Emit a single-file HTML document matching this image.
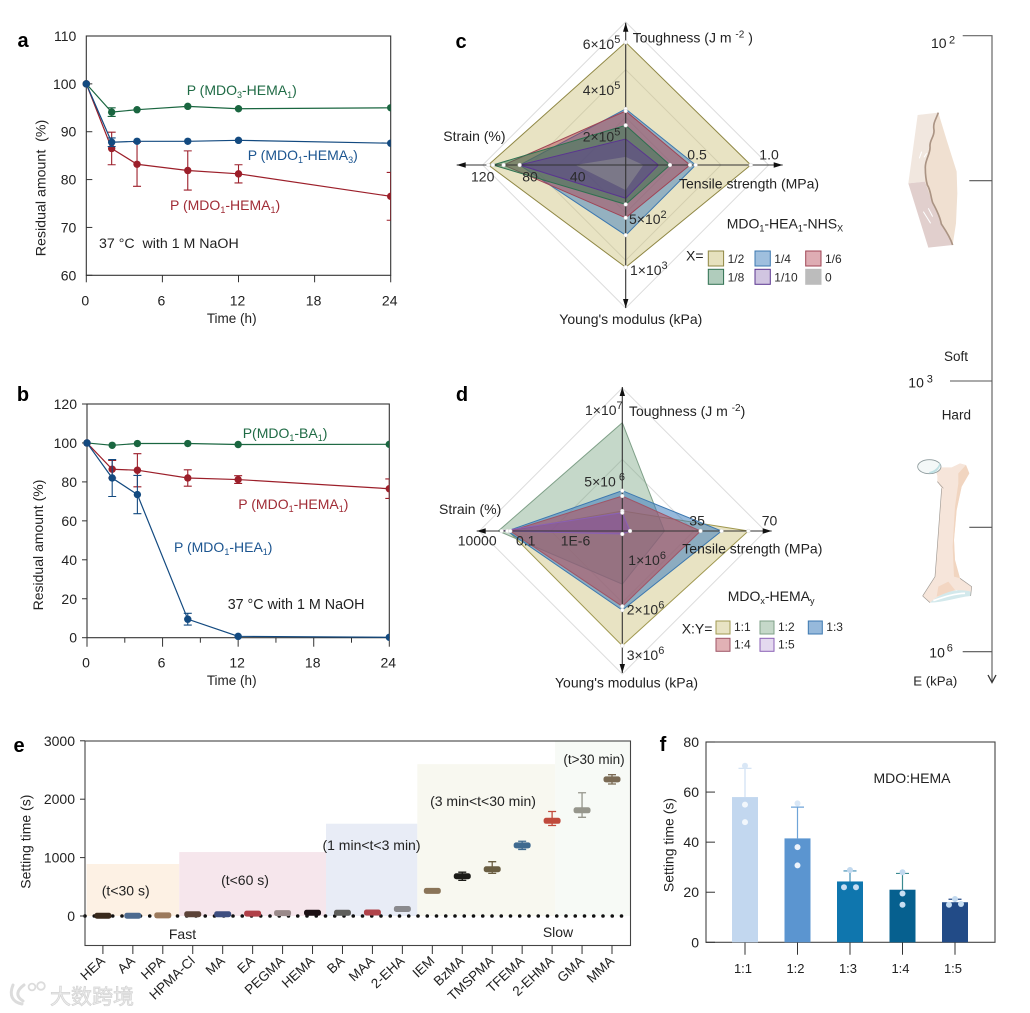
<!DOCTYPE html>
<html lang="en">
<head>
<meta charset="utf-8">
<title>Polymer degradation and adhesive figure</title>
<style>
html,body{margin:0;padding:0;background:#fff;}
svg{display:block;}
text{font-family:"Liberation Sans","Noto Sans CJK SC",sans-serif;fill:#222;font-size:14px;}
.letter{font-size:20px;font-weight:bold;fill:#000;text-anchor:middle;}
.rad{font-size:14px;fill:#2a2a2a;}
.lg{font-size:12px;fill:#2a2a2a;}
.sub{font-size:9px;}
.g{fill:#1f6b45;}
.b{fill:#1c5590;}
.r{fill:#a02c36;}
</style>
</head>
<body>
<svg id="fig" xmlns="http://www.w3.org/2000/svg" width="1030" height="1013" viewBox="0 0 1030 1013">
  <defs>
    <clipPath id="clipA"><rect x="60" y="20" width="330.7" height="270"/></clipPath>
    <clipPath id="clipB"><rect x="60" y="390" width="329.3" height="262"/></clipPath>
  </defs>

  <text class="letter" x="23" y="47">a</text>
  <text class="letter" x="23" y="401">b</text>
  <text class="letter" x="461" y="48">c</text>
  <text class="letter" x="462" y="401">d</text>
  <text class="letter" x="19" y="752">e</text>
  <text class="letter" x="663" y="751">f</text>

  <g id="panelA"></g>
  <g id="panelB"></g>
  <g id="panelC"></g>
  <g id="panelD"></g>
  <g id="panelE"></g>
  <g id="panelF"></g>

  <!-- panel a annotations -->
  <text x="40.5" y="188" transform="rotate(-90 40.5 188)" dy="5" text-anchor="middle" xml:space="preserve" style="font-size:14.2px">Residual amount  (%)</text>
  <text x="231.7" y="323" text-anchor="middle" style="font-size:13.5px">Time (h)</text>
  <text class="g" x="186.7" y="95">P (MDO<tspan class="sub g" dy="3">3</tspan><tspan class="g" dy="-3">-HEMA</tspan><tspan class="sub g" dy="3">1</tspan><tspan class="g" dy="-3">)</tspan></text>
  <text class="b" x="247.7" y="160">P (MDO<tspan class="sub b" dy="3">1</tspan><tspan class="b" dy="-3">-HEMA</tspan><tspan class="sub b" dy="3">3</tspan><tspan class="b" dy="-3">)</tspan></text>
  <text class="r" x="170" y="210">P (MDO<tspan class="sub r" dy="3">1</tspan><tspan class="r" dy="-3">-HEMA</tspan><tspan class="sub r" dy="3">1</tspan><tspan class="r" dy="-3">)</tspan></text>
  <text x="99" y="248" xml:space="preserve" style="font-size:14.2px">37 °C  with 1 M NaOH</text>

  <!-- panel b annotations -->
  <text x="38" y="545" transform="rotate(-90 38 545)" dy="5" text-anchor="middle">Residual amount (%)</text>
  <text x="231.7" y="685" text-anchor="middle" style="font-size:13.5px">Time (h)</text>
  <text class="g" x="242.7" y="438">P(MDO<tspan class="sub g" dy="3">1</tspan><tspan class="g" dy="-3">-BA</tspan><tspan class="sub g" dy="3">1</tspan><tspan class="g" dy="-3">)</tspan></text>
  <text class="r" x="238.3" y="509">P (MDO<tspan class="sub r" dy="3">1</tspan><tspan class="r" dy="-3">-HEMA</tspan><tspan class="sub r" dy="3">1</tspan><tspan class="r" dy="-3">)</tspan></text>
  <text class="b" x="174" y="552">P (MDO<tspan class="sub b" dy="3">1</tspan><tspan class="b" dy="-3">-HEA</tspan><tspan class="sub b" dy="3">1</tspan><tspan class="b" dy="-3">)</tspan></text>
  <text x="227.7" y="609" style="font-size:14.3px">37 °C with 1 M NaOH</text>

  <!-- panel c labels -->
  <g>
    <text class="rad" x="582.7" y="49">6×10<tspan dy="-6" style="font-size:11px">5</tspan></text>
    <text class="rad" x="582.7" y="95">4×10<tspan dy="-6" style="font-size:11px">5</tspan></text>
    <text class="rad" x="582.7" y="141.7">2×10<tspan dy="-6" style="font-size:11px">5</tspan></text>
    <text class="rad" x="687.3" y="159.3">0.5</text>
    <text class="rad" x="759.3" y="159.3">1.0</text>
    <text class="rad" x="482.7" y="181.7" text-anchor="middle">120</text>
    <text class="rad" x="530" y="181.7" text-anchor="middle">80</text>
    <text class="rad" x="577.7" y="181.7" text-anchor="middle">40</text>
    <text class="rad" x="629" y="224">5×10<tspan dy="-6" style="font-size:11px">2</tspan></text>
    <text class="rad" x="630" y="275">1×10<tspan dy="-6" style="font-size:11px">3</tspan></text>
    <text x="632.7" y="42.7">Toughness (J m <tspan dy="-5" style="font-size:10px">-2</tspan><tspan dy="5"> )</tspan></text>
    <text x="443.3" y="141">Strain (%)</text>
    <text x="679" y="188.3">Tensile strength (MPa)</text>
    <text x="559.3" y="324">Young's modulus (kPa)</text>
    <text x="726.7" y="228.3">MDO<tspan dy="3" class="sub">1</tspan><tspan dy="-3">-HEA</tspan><tspan dy="3" class="sub">1</tspan><tspan dy="-3">-NHS</tspan><tspan dy="3" class="sub">X</tspan></text>
    <text x="686" y="260.7">X=</text>
  </g>

  <!-- panel d labels -->
  <g>
    <text class="rad" x="585" y="415">1×10<tspan dy="-6" style="font-size:11px">7</tspan></text>
    <text class="rad" x="584.3" y="486.7">5×10<tspan dy="-6" style="font-size:11px"> 6</tspan></text>
    <text x="629" y="416">Toughness (J m <tspan dy="-5" style="font-size:10px">-2</tspan><tspan dy="5">)</tspan></text>
    <text x="439" y="514">Strain (%)</text>
    <text class="rad" x="457.7" y="545.7">10000</text>
    <text class="rad" x="516" y="545.7">0.1</text>
    <text class="rad" x="560.7" y="545.7">1E-6</text>
    <text class="rad" x="689.3" y="525.3">35</text>
    <text class="rad" x="761.7" y="525.3">70</text>
    <text x="682.3" y="553.3">Tensile strength (MPa)</text>
    <text class="rad" x="628.3" y="565">1×10<tspan dy="-6" style="font-size:11px">6</tspan></text>
    <text class="rad" x="626.7" y="614.3">2×10<tspan dy="-6" style="font-size:11px">6</tspan></text>
    <text class="rad" x="626.7" y="660">3×10<tspan dy="-6" style="font-size:11px">6</tspan></text>
    <text x="555" y="687.3">Young's modulus (kPa)</text>
    <text x="727.7" y="601">MDO<tspan dy="3" class="sub">x</tspan><tspan dy="-3">-HEMA</tspan><tspan dy="3" class="sub">y</tspan></text>
    <text x="681.7" y="633.3">X:Y=</text>
  </g>

  <!-- stiffness scale -->
  <g>
    <path d="M962.7 35.7H992V681" fill="none" stroke="#666" stroke-width="1.2"/>
    <path d="M969.3 180.7H992M950 381H992M969.3 527.3H992M962.7 651.7H992" fill="none" stroke="#555" stroke-width="1.1"/>
    <path d="M988 675L992 682.5L996 675" fill="none" stroke="#333" stroke-width="1.3"/>
    <text x="931" y="48">10</text>
    <text x="949" y="43.3" style="font-size:11px">2</text>
    <text x="908.3" y="387.7">10</text>
    <text x="926.7" y="382.7" style="font-size:11px">3</text>
    <text x="929.3" y="657.3">10</text>
    <text x="946.7" y="651.7" style="font-size:11px">6</text>
    <text x="944" y="361" style="font-size:13.5px">Soft</text>
    <text x="941.7" y="419.3" style="font-size:13.5px">Hard</text>
    <text x="913.3" y="685.7" style="font-size:13.2px">E (kPa)</text>
  </g>

  <!-- skin illustration -->
  <g transform="translate(880 20) scale(0.3333)">
    <path d="M113 285L175 278L160 330L150 375L135 430L135 485L85 490Z" fill="#f1e7df"/>
    <path d="M85 490L135 485L155 540L185 610L218 675L145 683Z" fill="#e1cfcd"/>
    <path d="M175 278L200 360L230 455L232 520L228 610L218 675L185 610L155 540L135 485L135 430L150 375L160 330Z" fill="#f0e0d1"/>
    <path d="M125 395L118 415M140 400L132 412M130 575L152 610M145 565L158 590" fill="none" stroke="#fff" stroke-width="3"/>
    <path d="M175 278C168 298 158 310 162 330C164 350 148 360 150 380C152 402 134 420 136 445C136 465 138 480 142 495C152 510 152 530 158 548C170 570 180 590 184 612C196 630 210 650 218 675" fill="none" stroke="#ab9484" stroke-width="5"/>
  </g>

  <!-- bone illustration -->
  <g transform="translate(880 360) scale(0.3333)">
    <path d="M165 322L180 322L215 322L240 310L258 315L268 340L245 380L230 450L222 540L225 600L240 655L275 680L272 708L230 690L150 728L128 708L165 650L172 560L185 385L172 365L172 348Z" fill="#f6e5da"/>
    <path d="M268 340L245 380L230 450L222 540L225 600L240 655L222 650L218 560L225 440L235 370L235 340L258 315Z" fill="#f1d5c0"/>
    <path d="M175 680L205 665L225 690L170 710Z" fill="#f3d6c2"/>
    <ellipse cx="148" cy="320" rx="35" ry="21" fill="#f4f8f8" stroke="#8d9a9c" stroke-width="2.5"/>
    <path d="M148 338C165 335 178 322 180 310C176 328 165 338 148 338Z" fill="#bfe0e3" stroke="#bfe0e3" stroke-width="4"/>
    <path d="M150 728C180 700 230 682 272 695L272 708C230 712 190 728 150 728Z" fill="#d3e9ec"/>
    <path d="M160 722C190 712 225 700 255 700" fill="none" stroke="#fff" stroke-width="5"/>
    <path d="M128 708L150 728M128 708L165 650L172 560L185 385M172 365L190 385M240 655L275 680L272 708" fill="none" stroke="#a09a94" stroke-width="2"/>
  </g>

  <!-- watermark -->
  <g>
    <path d="M13 985C9 995 12 1002 22 1004M24 985C17 990 15 996 23 1001" fill="none" stroke="#dcdcdc" stroke-width="3" stroke-linecap="round"/>
    <circle cx="32" cy="987" r="3.4" fill="none" stroke="#dcdcdc" stroke-width="1.8"/>
    <circle cx="41" cy="986" r="3.8" fill="none" stroke="#dcdcdc" stroke-width="1.8"/>
    <text x="50" y="1004" style="font-size:21px;fill:#ececec;stroke:#d4d4d4;stroke-width:0.7px;font-family:'Liberation Sans','Noto Sans CJK SC',sans-serif">大数跨境</text>
  </g>
</svg>

<script>
// ---------- panel a data ----------
const timeHours = [0, 2, 4, 8, 12, 24];
const aTicksX = [0, 6, 12, 18, 24];
const aTicksY = [60, 70, 80, 90, 100, 110];
const aGreen = [100, 94.1, 94.6, 95.3, 94.8, 95];
const aGreenErr = [0, 0.9, 0.5, 0.3, 0.3, 0.2];
const aBlue = [100, 87.8, 88, 88, 88.2, 87.6];
const aBlueErr = [0, 0.9, 0.5, 0.3, 0.3, 0.2];
const aRed = [100, 86.5, 83.2, 81.9, 81.2, 76.5];
const aRedErr = [0, 3.4, 4.6, 4.1, 1.9, 5];

// ---------- panel b data ----------
const bTicksX = [0, 6, 12, 18, 24];
const bMinorX = [3, 9, 15, 21];
const bTicksY = [0, 20, 40, 60, 80, 100, 120];
const bGreen = [100, 98.8, 99.7, 99.7, 99.2, 99.3];
const bGreenErr = [0, 0.3, 0.3, 0.3, 0.3, 0.2];
const bRed = [100, 86.5, 86, 82, 81.2, 76.5];
const bRedErr = [0, 4.5, 8.5, 4.2, 2, 5];
const bBlue = [100, 82, 73.5, 9.5, 0.7, 0.2];
const bBlueErr = [0, 9.5, 9.8, 3, 0.2, 0.1];

// ---------- panel c data: [toughness, tensile, modulus, strain] ----------
const cLabels = ['1/2', '1/4', '1/6', '1/8', '1/10', '0'];
const cX12 = [600000, 0.887, 1000, 120];
const cX14 = [274000, 0.496, 686, 92.6];
const cX16 = [264000, 0.456, 516, 106.6];
const cX18 = [194000, 0.314, 385, 116];
const cX110 = [127000, 0.232, 325, 92.6];
const cX0 = [40000, 0.125, 245, 44];

// ---------- panel d data: [toughness, tensile, modulus, strain] ----------
const dLabels = ['1:1', '1:2', '1:3', '1:4', '1:5'];
const d11 = [1850000, 61.7, 3000000, 5.1];
const d12 = [10000000, 20.6, 1390000, 55];
const d13 = [3720000, 48.6, 2070000, 6.5];
const d14 = [3230000, 38.3, 1970000, 3.2];
const d15 = [1690000, 3.8, 80000, 25];

// ---------- panel e data ----------
const eCategories = ['HEA','AA','HPA','HPMA-Cl','MA','EA','PEGMA','HEMA','BA','MAA','2-EHA','IEM','BzMA','TMSPMA','TFEMA','2-EHMA','GMA','MMA'];
const eMeans = [5, 5, 10, 30, 30, 40, 50, 55, 55, 60, 120, 430, 680, 800, 1210, 1630, 1810, 2340];
const eErrUp = [8, 8, 10, 15, 15, 15, 15, 15, 15, 15, 30, 15, 70, 130, 70, 160, 300, 80];
const eErrDown = [8, 8, 10, 15, 15, 15, 15, 15, 15, 15, 30, 15, 70, 70, 70, 80, 120, 80];
const eBandEnds = [2.55, 7.45, 10.5, 15.1, 17.6];
const eBandTops = [890, 1095, 1580, 2600, 3000];
const eTicksY = [0, 1000, 2000, 3000];

// ---------- panel f data ----------
const fCategories = ['1:1', '1:2', '1:3', '1:4', '1:5'];
const fMeans = [58, 41.5, 24.3, 21, 16];
const fErrHigh = [69.5, 54, 28.5, 27.5, 17.2];
const fPointsA = [70.5, 55.5, 28.9, 28, 17.3];
const fPointsB = [55, 38, 22, 19.5, 15];
const fPointsC = [48, 30.7, 22, 15, 15.3];
const fTicksY = [0, 20, 40, 60, 80];

const NS = 'http://www.w3.org/2000/svg';
function mk(parent, tag, attrs, name) {
  const el = document.createElementNS(NS, tag);
  for (const k in attrs) { el.setAttribute(k, attrs[k]); }
  
  
  parent.appendChild(el);
  return el;
}
function label(parent, x, y, str, anchor, name, extra) {
  const el = mk(parent, 'text', Object.assign({x: x, y: y, 'text-anchor': anchor}, extra || {}), name);
  el.textContent = str;
  return el;
}
function linear(d0, d1, r0, r1) {
  return function (v) { return r0 + (v - d0) * (r1 - r0) / (d1 - d0); };
}

// ---------- line chart ----------
function lineChart(root, opt) {
  const x = linear(0, 24, opt.left, opt.right);
  const y = linear(opt.yMin, opt.yMax, opt.bottom, opt.top);
  mk(root, 'rect', {x: opt.left, y: opt.top, width: opt.right - opt.left, height: opt.bottom - opt.top, fill: 'none', stroke: '#333', 'stroke-width': 1.1}, opt.id + '-plot-frame');
  opt.ticksY.forEach(function (t) {
    mk(root, 'line', {x1: opt.left, x2: opt.left + opt.yTickLen, y1: y(t), y2: y(t), stroke: '#333', 'stroke-width': 1}, opt.id + '-y-tick');
    label(root, opt.left - 10, y(t) + 5, String(t), 'end', opt.id + '-y-tick-label');
  });
  opt.ticksX.forEach(function (t) {
    mk(root, 'line', {x1: x(t), x2: x(t), y1: opt.bottom, y2: opt.bottom + opt.xTickLen, stroke: '#333', 'stroke-width': 1}, opt.id + '-x-tick');
    label(root, x(t) - 1, opt.bottom + 30, String(t), 'middle', opt.id + '-x-tick-label');
  });
  (opt.minorX || []).forEach(function (t) {
    mk(root, 'line', {x1: x(t), x2: x(t), y1: opt.bottom, y2: opt.bottom + 5, stroke: '#333', 'stroke-width': 1}, opt.id + '-x-minor-tick');
  });
  const plot = mk(root, 'g', {'clip-path': 'url(#' + opt.clip + ')'}, opt.id + '-series-area');
  opt.series.forEach(function (s) {
    const pts = s.values.map(function (v, i) { return x(timeHours[i]) + ',' + y(v); }).join(' ');
    mk(plot, 'polyline', {points: pts, fill: 'none', stroke: s.color, 'stroke-width': 1.2}, opt.id + '-line-' + s.name);
    s.values.forEach(function (v, i) {
      const e = s.err[i];
      if (e > 0.5) {
        const d = 'M' + x(timeHours[i]) + ' ' + y(v - e) + 'V' + y(v + e) +
          'M' + (x(timeHours[i]) - 4) + ' ' + y(v - e) + 'h8M' + (x(timeHours[i]) - 4) + ' ' + y(v + e) + 'h8';
        mk(plot, 'path', {d: d, fill: 'none', stroke: s.color, 'stroke-width': 1.1}, opt.id + '-error-bar-' + s.name);
      }
      mk(plot, 'circle', {cx: x(timeHours[i]), cy: y(v), r: 3.7, fill: s.color}, opt.id + '-point-' + s.name);
    });
  });
}

lineChart(document.getElementById('panelA'), {
  id: 'a', left: 86.3, right: 390.7, top: 36, bottom: 275.3, yMin: 60, yMax: 110,
  ticksX: aTicksX, ticksY: aTicksY, xTickLen: 7, yTickLen: 6, clip: 'clipA',
  series: [
    {name: 'mdo3-hema1', values: aGreen, err: aGreenErr, color: '#1a6640'},
    {name: 'mdo1-hema1', values: aRed, err: aRedErr, color: '#9c1f2a'},
    {name: 'mdo1-hema3', values: aBlue, err: aBlueErr, color: '#134a80'}
  ]
});
lineChart(document.getElementById('panelB'), {
  id: 'b', left: 87, right: 389.3, top: 404, bottom: 637.7, yMin: 0, yMax: 120,
  ticksX: bTicksX, ticksY: bTicksY, minorX: bMinorX, xTickLen: 9, yTickLen: -5, clip: 'clipB',
  series: [
    {name: 'mdo1-ba1', values: bGreen, err: bGreenErr, color: '#1a6640'},
    {name: 'mdo1-hema1', values: bRed, err: bRedErr, color: '#9c1f2a'},
    {name: 'mdo1-hea1', values: bBlue, err: bBlueErr, color: '#134a80'}
  ]
});

// ---------- radar chart ----------
function radar(root, opt) {
  const cx = opt.cx, cy = opt.cy;
  function vertex(vals) {
    return [
      [cx, cy - opt.scales[0](vals[0])],
      [cx + opt.scales[1](vals[1]), cy],
      [cx, cy + opt.scales[2](vals[2])],
      [cx - opt.scales[3](vals[3]), cy]
    ];
  }
  for (let i = 1; i <= opt.rings; i++) {
    const r = opt.gridR * i / opt.rings;
    const ptsG = [[cx, cy - r], [cx + r, cy], [cx, cy + r], [cx - r, cy]].map(function (p) { return p.join(','); }).join(' ');
    mk(root, 'polygon', {points: ptsG, fill: 'none', stroke: '#dcdcdc', 'stroke-width': 1}, opt.id + '-grid-ring');
  }
  opt.series.forEach(function (s) {
    const pts = vertex(s.values).map(function (p) { return p.join(','); }).join(' ');
    mk(root, 'polygon', {points: pts, fill: s.fill, 'fill-opacity': s.op, stroke: s.stroke, 'stroke-width': 1}, opt.id + '-series-' + s.name);
  });
  const a = opt.arrows;
  mk(root, 'path', {d: 'M' + cx + ' ' + a[0] + 'V' + a[2] + 'M' + a[3] + ' ' + cy + 'H' + a[1], fill: 'none', stroke: '#333', 'stroke-width': 1.1}, opt.id + '-axes');
  mk(root, 'path', {d: 'M' + cx + ' ' + a[0] + 'l-2.7 9h5.4zM' + cx + ' ' + a[2] + 'l-2.7 -9h5.4zM' + a[3] + ' ' + cy + 'l9 -2.7v5.4zM' + a[1] + ' ' + cy + 'l-9 -2.7v5.4z', fill: '#111'}, opt.id + '-axis-arrows');
  opt.series.forEach(function (s) {
    if (!s.dots) { return; }
    vertex(s.values).forEach(function (p) {
      mk(root, 'circle', {cx: p[0], cy: p[1], r: 1.9, fill: '#fff', stroke: '#ccc', 'stroke-width': 0.4}, opt.id + '-vertex-dot');
    });
  });
  opt.series.forEach(function (s, i) {
    const col = i % opt.cols, row = Math.floor(i / opt.cols);
    const sx = opt.legendX[col], sy = opt.legendY[row];
    mk(root, 'rect', {x: sx, y: sy, width: opt.swW, height: opt.swH, fill: s.fill, 'fill-opacity': s.legendOp, stroke: s.stroke === 'none' ? '#bdbdbd' : s.stroke, 'stroke-width': 1}, opt.id + '-legend-swatch-' + s.name);
    label(root, sx + opt.swW + 4, sy + opt.swH - 3, opt.labels[i], 'start', opt.id + '-legend-entry-' + s.name, {'class': 'lg'});
  });
}

radar(document.getElementById('panelC'), {
  id: 'c', cx: 625.7, cy: 165, gridR: 143, rings: 3, arrows: [22.7, 782.7, 308, 456.7],
  scales: [linear(0, 600000, 0, 122.7), linear(0, 1, 0, 141), linear(0, 1000, 0, 102.3), linear(0, 120, 0, 137.4)],
  labels: cLabels, cols: 3, legendX: [708.3, 755, 805.7], legendY: [251, 269.3], swW: 15.3, swH: 15,
  series: [
    {name: 'x-1-2', values: cX12, fill: '#c8bd6f', op: 0.42, legendOp: 0.45, stroke: '#8f8744', dots: true},
    {name: 'x-1-4', values: cX14, fill: '#3f80bd', op: 0.5, legendOp: 0.5, stroke: '#3c78b0', dots: true},
    {name: 'x-1-6', values: cX16, fill: '#b03a4a', op: 0.45, legendOp: 0.42, stroke: '#a04455', dots: true},
    {name: 'x-1-8', values: cX18, fill: '#2f7a4f', op: 0.5, legendOp: 0.38, stroke: '#2f7050', dots: true},
    {name: 'x-1-10', values: cX110, fill: '#5a2f95', op: 0.42, legendOp: 0.28, stroke: '#5a3590', dots: false},
    {name: 'x-0', values: cX0, fill: '#909090', op: 0.55, legendOp: 0.6, stroke: 'none', dots: false}
  ]
});

function logStrain(v) { return (Math.log10(v) + 11) * 146 / 15; }
radar(document.getElementById('panelD'), {
  id: 'd', cx: 622.3, cy: 531, gridR: 143, rings: 2, arrows: [387, 771.7, 673, 476.7],
  scales: [linear(0, 10000000, 0, 108.3), linear(0, 70, 0, 143), linear(0, 3000000, 0, 114.7), logStrain],
  labels: dLabels, cols: 3, legendX: [716, 760, 808.3], legendY: [621, 638.3], swW: 14, swH: 13,
  series: [
    {name: 'ratio-1-1', values: d11, fill: '#c8bd6f', op: 0.42, legendOp: 0.42, stroke: '#a09850', dots: true},
    {name: 'ratio-1-2', values: d12, fill: '#6f9d78', op: 0.4, legendOp: 0.4, stroke: '#7fa088', dots: false},
    {name: 'ratio-1-3', values: d13, fill: '#3f80bd', op: 0.55, legendOp: 0.55, stroke: '#3c78b0', dots: true},
    {name: 'ratio-1-4', values: d14, fill: '#b8444f', op: 0.5, legendOp: 0.42, stroke: '#9f5566', dots: true},
    {name: 'ratio-1-5', values: d15, fill: '#7a3fb0', op: 0.35, legendOp: 0.2, stroke: '#8a60b5', dots: true}
  ]
});

// ---------- panel e ----------
(function () {
  const root = document.getElementById('panelE');
  const left = 85, right = 630.5, top = 741, bottom = 945.5;
  const y = linear(0, 3000, 916, 740.8);
  const x = linear(0, 17, 102.9, 612);
  const bandColors = ['#fdf1e4', '#f6e6ec', '#e8ecf6', '#f8f8f0', '#f7faf6'];
  const bandNames = ['fast-band', 'under-60s-band', 'one-to-three-min-band', 'three-to-thirty-min-band', 'over-30-min-band'];
  let prev = 86.6;
  eBandEnds.forEach(function (idx, i) {
    const end = Math.min(x(idx), right);
    mk(root, 'rect', {x: prev, y: y(eBandTops[i]), width: end - prev, height: 916 - y(eBandTops[i]), fill: bandColors[i]}, 'e-' + bandNames[i]);
    prev = end;
  });
  mk(root, 'rect', {x: left, y: top, width: right - left, height: bottom - top, fill: 'none', stroke: '#444', 'stroke-width': 1.1}, 'e-plot-frame');
  mk(root, 'line', {x1: left, x2: right, y1: y(0), y2: y(0), stroke: '#111', 'stroke-width': 3.6, 'stroke-linecap': 'round', 'stroke-dasharray': '0 9.25'}, 'e-zero-dotted-line');
  eTicksY.forEach(function (t) {
    mk(root, 'line', {x1: left - 5, x2: left, y1: y(t), y2: y(t), stroke: '#333', 'stroke-width': 1}, 'e-y-tick');
    label(root, 75, y(t) + 5, String(t), 'end', 'e-y-tick-label');
  });
  const colors = ['#3a2a1c','#4d6a8f','#9c7a5c','#5c4338','#3e4e80','#b04048','#9a8a8a','#1c1014','#5f5f5c','#b0434a','#8a8a8e','#8a7458','#1c1c18','#6a5e42','#3f6a90','#c04a3c','#96968c','#7a6a54'];
  eCategories.forEach(function (c, i) {
    const cxv = x(i);
    mk(root, 'line', {x1: cxv, x2: cxv, y1: bottom, y2: bottom + 8.5, stroke: '#333', 'stroke-width': 1}, 'e-x-tick');
    const hi = y(eMeans[i] + eErrUp[i]), lo = y(eMeans[i] - eErrDown[i]);
    mk(root, 'path', {d: 'M' + cxv + ' ' + lo + 'V' + hi + 'M' + (cxv - 4) + ' ' + hi + 'h8M' + (cxv - 4) + ' ' + lo + 'h8', fill: 'none', stroke: colors[i], 'stroke-width': 1.3}, 'e-error-bar-' + c.toLowerCase());
    mk(root, 'rect', {x: cxv - 8.5, y: y(eMeans[i]) - 3, width: 17, height: 6, rx: 2.5, fill: colors[i]}, 'e-box-' + c.toLowerCase());
    label(root, cxv + 3, 962, c, 'end', 'e-x-tick-label-' + c.toLowerCase(), {transform: 'rotate(-43 ' + (cxv + 3) + ' 962)', style: 'font-size:13.5px'});
  });
  label(root, 125.7, 895.7, '(t<30 s)', 'middle', 'e-band-label-under-30s');
  label(root, 245, 885, '(t<60 s)', 'middle', 'e-band-label-under-60s');
  label(root, 371.5, 850, '(1 min<t<3 min)', 'middle', 'e-band-label-1-3-min');
  label(root, 483, 806, '(3 min<t<30 min)', 'middle', 'e-band-label-3-30-min');
  label(root, 594, 764, '(t>30 min)', 'middle', 'e-band-label-over-30-min', {style: 'font-size:13.5px'});
  label(root, 182.5, 939, 'Fast', 'middle', 'e-fast-label');
  label(root, 558, 937, 'Slow', 'middle', 'e-slow-label');
  label(root, 25.3, 841.7, 'Setting time (s)', 'middle', 'e-y-axis-title', {transform: 'rotate(-90 25.3 841.7)', dy: 5});
})();

// ---------- panel f ----------
(function () {
  const root = document.getElementById('panelF');
  const left = 706, right = 995, top = 742, bottom = 942.3;
  const y = linear(0, 80, bottom, top);
  const x = linear(0, 4, 745, 955);
  const colors = ['#c2d7ef', '#5b95d0', '#0f76ae', '#06608f', '#224b87'];
  const lineColors = ['#cfe0f2', '#6fa4d8', '#3d8cb5', '#3a8a90', '#2a4f8a'];
  const dotColors = ['#f2f7fc', '#edf3fb', '#c8def2', '#c8def2', '#c8def2'];
  mk(root, 'rect', {x: left, y: top, width: right - left, height: bottom - top, fill: 'none', stroke: '#444', 'stroke-width': 1.1}, 'f-plot-frame');
  fTicksY.forEach(function (t) {
    mk(root, 'line', {x1: left, x2: left + 9, y1: y(t), y2: y(t), stroke: '#333', 'stroke-width': 1}, 'f-y-tick');
    label(root, 699, y(t) + 5, String(t), 'end', 'f-y-tick-label');
  });
  fCategories.forEach(function (c, i) {
    const cxv = x(i);
    const id = c.replace(':', '-');
    mk(root, 'line', {x1: cxv, x2: cxv, y1: bottom, y2: bottom + 12.5, stroke: '#333', 'stroke-width': 1}, 'f-x-tick');
    mk(root, 'path', {d: 'M' + cxv + ' ' + y(fMeans[i]) + 'V' + y(fErrHigh[i]) + 'M' + (cxv - 6.5) + ' ' + y(fErrHigh[i]) + 'h13', fill: 'none', stroke: lineColors[i], 'stroke-width': 1.2}, 'f-error-bar-' + id);
    mk(root, 'rect', {x: cxv - 13, y: y(fMeans[i]), width: 26, height: bottom - y(fMeans[i]), fill: colors[i]}, 'f-bar-' + id);
    const spreadB = i === 2 || i === 4 ? -6 : 0;
    const spreadC = i === 2 || i === 4 ? 6 : 0;
    mk(root, 'circle', {cx: cxv, cy: y(fPointsA[i]), r: 3, fill: i < 2 ? '#d9e7f6' : '#c2d9ef'}, 'f-point-' + id);
    mk(root, 'circle', {cx: cxv + spreadB, cy: y(fPointsB[i]), r: 3, fill: dotColors[i]}, 'f-point-' + id);
    mk(root, 'circle', {cx: cxv + spreadC, cy: y(fPointsC[i]), r: 3, fill: dotColors[i]}, 'f-point-' + id);
    label(root, cxv - 2, 973, c, 'middle', 'f-x-tick-label-' + id, {style: 'font-size:13px'});
  });
  label(root, 912, 783, 'MDO:HEMA', 'middle', 'f-annotation');
  label(root, 668.3, 845, 'Setting time (s)', 'middle', 'f-y-axis-title', {transform: 'rotate(-90 668.3 845)', dy: 5});
})();
</script>
</body>
</html>
